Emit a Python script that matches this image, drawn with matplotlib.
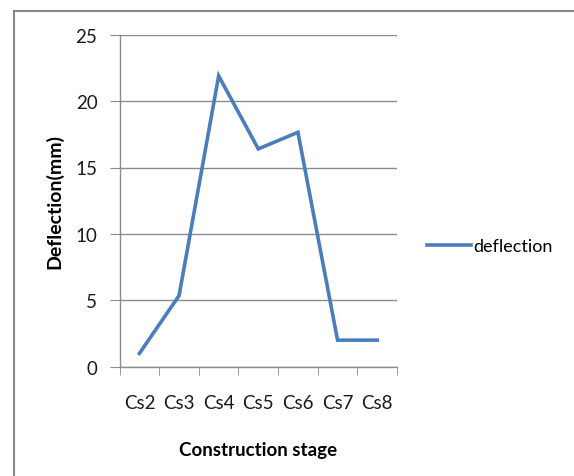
import matplotlib.pyplot as plt
from matplotlib.patches import Rectangle

# deflection at each construction stage
stages = ['Cs2', 'Cs3', 'Cs4', 'Cs5', 'Cs6', 'Cs7', 'Cs8']
deflection = [1.0, 5.35, 21.9, 16.4, 17.65, 2.0, 2.0]
y_ticks = [0, 5, 10, 15, 20, 25]

plt.rcParams['font.family'] = ['Lato', 'DejaVu Sans']

W, H = 574, 477
fig = plt.figure(figsize=(W / 100, H / 100), dpi=100)

# chart frame (runs off the right and bottom)
fig.patches.append(Rectangle((14 / W, -0.05), 1.1, 1 - 12 / H + 0.05,
                             transform=fig.transFigure, fill=False,
                             edgecolor='#868686', linewidth=1.5, zorder=0))

ax = fig.add_axes([119.6 / W, 1 - 367.7 / H, (397 - 119.6) / W, (367.7 - 35.7) / H])

x = list(range(len(stages)))
ax.plot(x, deflection, color='#4A7EBB', linewidth=2.6, label='deflection',
        solid_joinstyle='miter', clip_on=False, zorder=3)

ax.set_xlim(-0.5, len(stages) - 0.5)
ax.set_ylim(0, 25)
ax.set_yticks(y_ticks)
ax.set_xticks(x)
ax.set_xticklabels(stages)
ax.set_xticks([i - 0.5 for i in range(len(stages) + 1)], minor=True)

ax.grid(axis='y', color='#8c8c8c', linewidth=1)
ax.set_axisbelow(True)
for side in ['top', 'right']:
    ax.spines[side].set_visible(False)
for side in ['left', 'bottom']:
    ax.spines[side].set_color('#8c8c8c')
    ax.spines[side].set_linewidth(1)

ax.tick_params(axis='y', length=7, color='#8c8c8c', labelsize=13.5, pad=9,
               labelcolor='#1a1a1a')
ax.tick_params(axis='x', which='major', length=0, labelsize=13.5, pad=20,
               labelcolor='#1a1a1a')
ax.tick_params(axis='x', which='minor', length=6, color='#8c8c8c')

ax.set_xlabel('Construction stage', fontsize=13.5, fontweight='bold', labelpad=21.5)
ax.set_ylabel('Deflection(mm)', fontsize=14, fontweight='bold', labelpad=8.5)

ax.legend(loc='center left', bbox_to_anchor=(427 / W, 1 - 247 / H),
          bbox_transform=fig.transFigure, frameon=False, fontsize=13,
          handlelength=2.45, handletextpad=0.12, borderpad=0, borderaxespad=0)

fig.savefig('out.png', dpi=100, facecolor='white')
